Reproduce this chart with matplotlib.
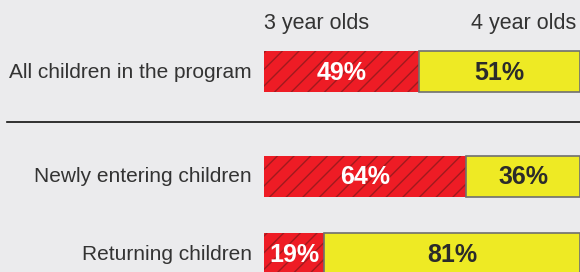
import matplotlib.pyplot as plt
from matplotlib.lines import Line2D

# データ
groups = ['All children in the program', 'Newly entering children', 'Returning children']
three_year = [49, 64, 19]
four_year = [51, 36, 81]
headers = ['3 year olds', '4 year olds']

plt.rcParams['font.family'] = ['Liberation Sans', 'DejaVu Sans']
plt.rcParams['hatch.linewidth'] = 1.0

bg = '#ebebed'
red = '#ee1c25'
yellow = '#eeea24'
txt = '#2b2b2b'

fig = plt.figure(figsize=(5.8, 2.72), dpi=100, facecolor=bg)
ax = fig.add_axes([264 / 580, 0, 316 / 580, 1])
ax.set_facecolor(bg)
ax.set_xlim(0, 100)
ax.set_ylim(272, 0)
ax.axis('off')

# 棒の縦位置 (ピクセル)
ypos = [71.5, 176, 253.5]
h = 41

ax.barh(ypos, three_year, height=h, color=red, edgecolor='#a01a1e',
        linewidth=0, hatch='//')
ax.barh(ypos, four_year, left=three_year, height=h, color=yellow,
        edgecolor='#6f6f6f', linewidth=1.2)

for y, a, b, g in zip(ypos, three_year, four_year, groups):
    ax.text(a / 2, y + 8, f'{a}%', color='white', fontsize=18, fontweight='bold',
            ha='center', va='baseline')
    ax.text(a + b / 2, y + 8, f'{b}%', color=txt, fontsize=18, fontweight='bold',
            ha='center', va='baseline')
    ax.text(-3.8, y + 6, g, color='#333333', fontsize=15, ha='right', va='baseline',
            clip_on=False)

ax.text(0, 29, headers[0], color='#333333', fontsize=15.5, ha='left', va='baseline')
ax.text(98.8, 29, headers[1], color='#333333', fontsize=15.5, ha='right', va='baseline')

# 区切り線
fig.add_artist(Line2D([7 / 580, 1], [1 - 122 / 272, 1 - 122 / 272],
                      color='#111111', linewidth=1.2))

fig.savefig('out.png', dpi=100, facecolor=bg)
